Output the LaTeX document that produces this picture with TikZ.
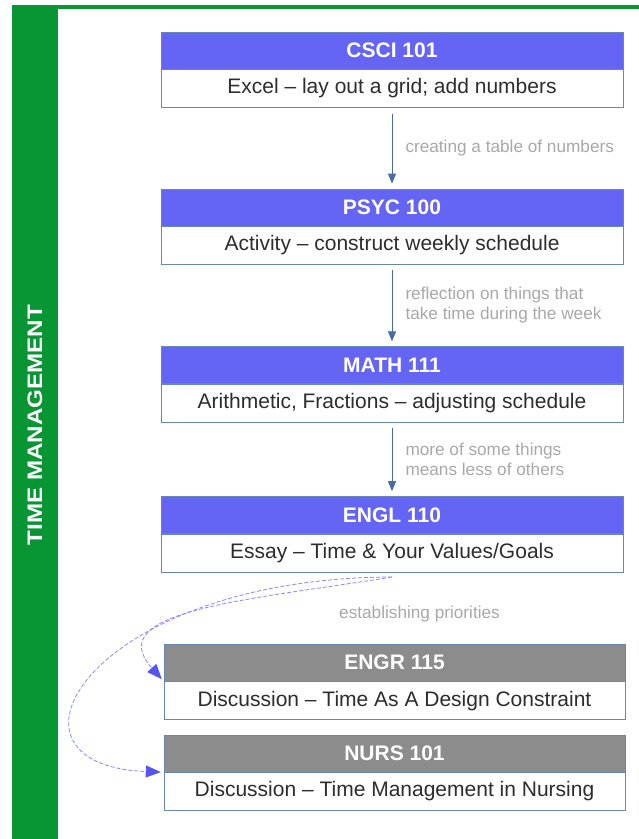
\documentclass[tikz,border=0pt]{standalone}
\usepackage{fontspec}
\setmainfont{Liberation Sans}
\usetikzlibrary{positioning,arrows.meta}
\definecolor{tmgreen}{RGB}{8,150,52}
\definecolor{hdrblue}{RGB}{100,100,245}
\definecolor{hdrgray}{RGB}{140,140,140}
\definecolor{boxline}{RGB}{105,135,180}
\definecolor{bodytext}{RGB}{45,45,45}
\definecolor{notegray}{RGB}{168,168,168}
\definecolor{flowblue}{RGB}{70,110,165}
\definecolor{linkblue}{RGB}{135,135,255}
\definecolor{tipblue}{RGB}{85,85,240}

\begin{document}
\begin{tikzpicture}[x=1pt,y=-1pt,node distance=84pt]
\tikzstyle{hdr}=[draw=boxline, fill=hdrblue, text=white, font=\bfseries\fontsize{21}{24}\selectfont, minimum width=462pt, minimum height=37pt, inner sep=0pt]
\tikzstyle{hdrg}=[hdr, fill=hdrgray, minimum width=461pt]
\tikzstyle{body}=[draw=boxline, fill=white, text=bodytext, font=\fontsize{21}{24}\selectfont, minimum width=462pt, minimum height=38pt, inner sep=0pt]
\tikzstyle{bodyg}=[body, minimum width=461pt]
\tikzstyle{note}=[text=notegray, font=\fontsize{17.2}{20}\selectfont, align=left, inner sep=0pt]
\tikzstyle{flow}=[draw=flowblue, line width=1pt, -{Triangle[length=10pt,width=8pt]}, shorten <=6pt, shorten >=5pt]
\tikzstyle{link}=[draw=linkblue, line width=0.8pt, dash pattern=on 4pt off 2pt, -{Triangle[length=15pt,width=12pt,color=tipblue]}, shorten >=3pt]
\useasboundingbox (0,0) rectangle (639,839);

% green frame
\fill[tmgreen] (12,5) rectangle (58,839);
\fill[tmgreen] (12,5) rectangle (639,9);
\node[text=white, font=\bfseries\fontsize{21}{24}\selectfont, rotate=90] (tm) at (35,425)
	{\scalebox{1.15}[1]{TIME MANAGEMENT}};

% courses
\node[hdr] (csci) at (392,50.5) {CSCI 101};
\node[body, below=0pt of csci] (csciB) {Excel – lay out a grid; add numbers};
\node[hdr, below=81pt of csciB] (psyc) {PSYC 100};
\node[body, below=0pt of psyc] (psycB) {Activity – construct weekly schedule};
\node[hdr, below=82pt of psycB] (math) {MATH 111};
\node[body, below=0pt of math] (mathB) {Arithmetic, Fractions – adjusting schedule};
\node[hdr, below=74pt of mathB] (engl) {ENGL 110};
\node[body, below=0pt of engl] (englB) {Essay – Time \& Your Values/Goals};
\node[hdrg, below=72pt of englB, xshift=2.5pt] (engr) {ENGR 115};
\node[bodyg, below=0pt of engr] (engrB) {Discussion – Time As A Design Constraint};
\node[hdrg, below=15pt of engrB] (nurs) {NURS 101};
\node[bodyg, below=0pt of nurs] (nursB) {Discussion – Time Management in Nursing};

% chain
\draw[flow] (csciB) -- node[note, right=13pt] (n1) {creating a table of numbers} (psyc);
\draw[flow] (psycB) -- node[note, right=13pt] (n2) {reflection on things that\\take time during the week} (math);
\draw[flow] (mathB) -- node[note, right=13pt] (n3) {more of some things\\means less of others} (engl);

% split
\coordinate[below=5pt of englB] (fork);
\draw[link] (fork) .. controls (250,600) and (100,610) .. (engr.south west);
\draw[link] (fork) .. controls (90,578) and (-20,765) .. (nurs.south west);
\node[note, anchor=west] (prio) at (339,614) {establishing priorities};

\end{tikzpicture}
\end{document}
